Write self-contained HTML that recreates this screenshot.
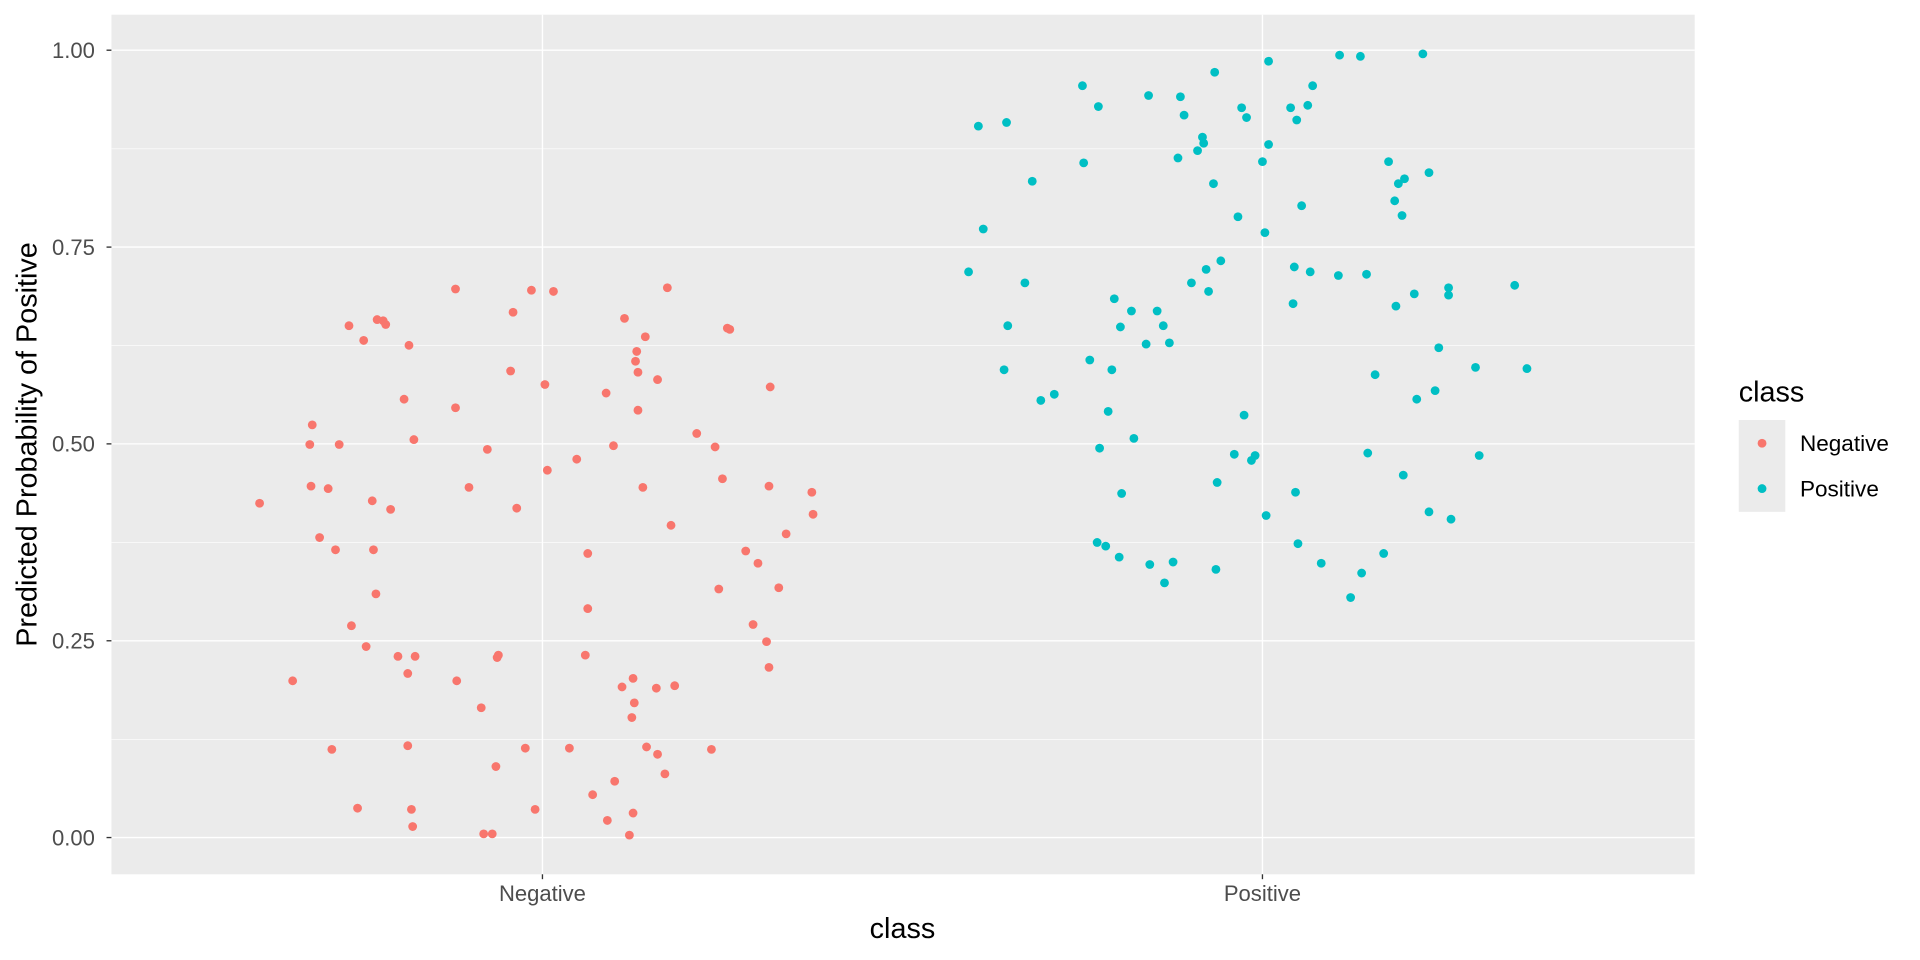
<!DOCTYPE html>
<html><head><meta charset="utf-8"><style>html,body{margin:0;padding:0;background:#fff}svg{display:block}text{font-family:"Liberation Sans",Arial,sans-serif}</style></head>
<body>
<svg width="1920" height="960" viewBox="0 0 1568 784" xmlns="http://www.w3.org/2000/svg">
<rect x="0" y="0" width="1568" height="784" fill="#fff"/>
<rect x="91" y="12" width="1293" height="702" fill="#EBEBEB"/>
<g stroke="#fff" stroke-width="0.55">
<line x1="91" x2="1384" y1="121.5" y2="121.5"/><line x1="91" x2="1384" y1="282.3" y2="282.3"/>
<line x1="91" x2="1384" y1="443" y2="443"/><line x1="91" x2="1384" y1="603.8" y2="603.8"/>
</g>
<g stroke="#fff" stroke-width="1.1">
<line x1="91" x2="1384" y1="41" y2="41"/><line x1="91" x2="1384" y1="201.8" y2="201.8"/>
<line x1="91" x2="1384" y1="362.5" y2="362.5"/><line x1="91" x2="1384" y1="523.3" y2="523.3"/>
<line x1="91" x2="1384" y1="684" y2="684"/>
<line x1="443" x2="443" y1="12" y2="714"/><line x1="1031" x2="1031" y1="12" y2="714"/>
</g>
<g stroke="#333" stroke-width="1.1">
<line x1="87" x2="91" y1="41" y2="41"/><line x1="87" x2="91" y1="201.8" y2="201.8"/>
<line x1="87" x2="91" y1="362.5" y2="362.5"/><line x1="87" x2="91" y1="523.3" y2="523.3"/>
<line x1="87" x2="91" y1="684" y2="684"/>
<line x1="443" x2="443" y1="714" y2="718"/><line x1="1031" x2="1031" y1="714" y2="718"/>
</g>
<g font-size="18" fill="#4D4D4D" text-anchor="end">
<text x="77.5" y="47.4">1.00</text><text x="77.5" y="208.2">0.75</text><text x="77.5" y="368.9">0.50</text>
<text x="77.5" y="529.7">0.25</text><text x="77.5" y="690.4">0.00</text>
</g>
<g font-size="18" fill="#4D4D4D" text-anchor="middle">
<text x="443" y="736">Negative</text><text x="1031" y="736">Positive</text>
</g>
<text x="737" y="766" font-size="23.5" text-anchor="middle" fill="#000">class</text>
<text transform="translate(30,363) rotate(-90)" font-size="23.5" text-anchor="middle" fill="#000">Predicted Probability of Positive</text>
<g fill="#F8766D">
<circle cx="212" cy="411" r="3.6"/><circle cx="239" cy="556" r="3.6"/><circle cx="253" cy="363" r="3.6"/><circle cx="255" cy="347" r="3.6"/><circle cx="254" cy="397" r="3.6"/><circle cx="261" cy="439" r="3.6"/><circle cx="268" cy="399" r="3.6"/><circle cx="271" cy="612" r="3.6"/><circle cx="274" cy="449" r="3.6"/><circle cx="277" cy="363" r="3.6"/><circle cx="285" cy="266" r="3.6"/><circle cx="287" cy="511" r="3.6"/><circle cx="292" cy="660" r="3.6"/><circle cx="297" cy="278" r="3.6"/><circle cx="299" cy="528" r="3.6"/><circle cx="304" cy="409" r="3.6"/><circle cx="305" cy="449" r="3.6"/><circle cx="307" cy="485" r="3.6"/><circle cx="308" cy="261" r="3.6"/><circle cx="313" cy="262" r="3.6"/><circle cx="315" cy="265" r="3.6"/><circle cx="319" cy="416" r="3.6"/><circle cx="325" cy="536" r="3.6"/><circle cx="330" cy="326" r="3.6"/><circle cx="334" cy="282" r="3.6"/><circle cx="333" cy="550" r="3.6"/><circle cx="333" cy="609" r="3.6"/><circle cx="336" cy="661" r="3.6"/><circle cx="337" cy="675" r="3.6"/><circle cx="338" cy="359" r="3.6"/><circle cx="339" cy="536" r="3.6"/><circle cx="372" cy="236" r="3.6"/><circle cx="372" cy="333" r="3.6"/><circle cx="373" cy="556" r="3.6"/><circle cx="383" cy="398" r="3.6"/><circle cx="393" cy="578" r="3.6"/><circle cx="395" cy="681" r="3.6"/><circle cx="398" cy="367" r="3.6"/><circle cx="402" cy="681" r="3.6"/><circle cx="405" cy="626" r="3.6"/><circle cx="406" cy="537" r="3.6"/><circle cx="407" cy="535" r="3.6"/><circle cx="417" cy="303" r="3.6"/><circle cx="419" cy="255" r="3.6"/><circle cx="422" cy="415" r="3.6"/><circle cx="429" cy="611" r="3.6"/><circle cx="434" cy="237" r="3.6"/><circle cx="437" cy="661" r="3.6"/><circle cx="445" cy="314" r="3.6"/><circle cx="447" cy="384" r="3.6"/><circle cx="452" cy="238" r="3.6"/><circle cx="465" cy="611" r="3.6"/><circle cx="471" cy="375" r="3.6"/><circle cx="478" cy="535" r="3.6"/><circle cx="480" cy="452" r="3.6"/><circle cx="480" cy="497" r="3.6"/><circle cx="484" cy="649" r="3.6"/><circle cx="495" cy="321" r="3.6"/><circle cx="496" cy="670" r="3.6"/><circle cx="501" cy="364" r="3.6"/><circle cx="502" cy="638" r="3.6"/><circle cx="508" cy="561" r="3.6"/><circle cx="510" cy="260" r="3.6"/><circle cx="514" cy="682" r="3.6"/><circle cx="516" cy="586" r="3.6"/><circle cx="517" cy="554" r="3.6"/><circle cx="517" cy="664" r="3.6"/><circle cx="518" cy="574" r="3.6"/><circle cx="519" cy="295" r="3.6"/><circle cx="520" cy="287" r="3.6"/><circle cx="521" cy="304" r="3.6"/><circle cx="521" cy="335" r="3.6"/><circle cx="525" cy="398" r="3.6"/><circle cx="527" cy="275" r="3.6"/><circle cx="528" cy="610" r="3.6"/><circle cx="536" cy="562" r="3.6"/><circle cx="537" cy="616" r="3.6"/><circle cx="537" cy="310" r="3.6"/><circle cx="543" cy="632" r="3.6"/><circle cx="545" cy="235" r="3.6"/><circle cx="548" cy="429" r="3.6"/><circle cx="551" cy="560" r="3.6"/><circle cx="569" cy="354" r="3.6"/><circle cx="581" cy="612" r="3.6"/><circle cx="584" cy="365" r="3.6"/><circle cx="587" cy="481" r="3.6"/><circle cx="590" cy="391" r="3.6"/><circle cx="594" cy="268" r="3.6"/><circle cx="596" cy="269" r="3.6"/><circle cx="609" cy="450" r="3.6"/><circle cx="615" cy="510" r="3.6"/><circle cx="619" cy="460" r="3.6"/><circle cx="626" cy="524" r="3.6"/><circle cx="628" cy="397" r="3.6"/><circle cx="628" cy="545" r="3.6"/><circle cx="629" cy="316" r="3.6"/><circle cx="636" cy="480" r="3.6"/><circle cx="642" cy="436" r="3.6"/><circle cx="663" cy="402" r="3.6"/><circle cx="664" cy="420" r="3.6"/>
</g>
<g fill="#00BFC4">
<circle cx="791" cy="222" r="3.6"/><circle cx="799" cy="103" r="3.6"/><circle cx="803" cy="187" r="3.6"/><circle cx="820" cy="302" r="3.6"/><circle cx="822" cy="100" r="3.6"/><circle cx="823" cy="266" r="3.6"/><circle cx="837" cy="231" r="3.6"/><circle cx="843" cy="148" r="3.6"/><circle cx="850" cy="327" r="3.6"/><circle cx="861" cy="322" r="3.6"/><circle cx="884" cy="70" r="3.6"/><circle cx="885" cy="133" r="3.6"/><circle cx="890" cy="294" r="3.6"/><circle cx="897" cy="87" r="3.6"/><circle cx="896" cy="443" r="3.6"/><circle cx="898" cy="366" r="3.6"/><circle cx="903" cy="446" r="3.6"/><circle cx="905" cy="336" r="3.6"/><circle cx="908" cy="302" r="3.6"/><circle cx="910" cy="244" r="3.6"/><circle cx="914" cy="455" r="3.6"/><circle cx="915" cy="267" r="3.6"/><circle cx="916" cy="403" r="3.6"/><circle cx="924" cy="254" r="3.6"/><circle cx="926" cy="358" r="3.6"/><circle cx="936" cy="281" r="3.6"/><circle cx="938" cy="78" r="3.6"/><circle cx="939" cy="461" r="3.6"/><circle cx="945" cy="254" r="3.6"/><circle cx="950" cy="266" r="3.6"/><circle cx="951" cy="476" r="3.6"/><circle cx="955" cy="280" r="3.6"/><circle cx="958" cy="459" r="3.6"/><circle cx="962" cy="129" r="3.6"/><circle cx="964" cy="79" r="3.6"/><circle cx="967" cy="94" r="3.6"/><circle cx="973" cy="231" r="3.6"/><circle cx="978" cy="123" r="3.6"/><circle cx="982" cy="112" r="3.6"/><circle cx="983" cy="117" r="3.6"/><circle cx="985" cy="220" r="3.6"/><circle cx="987" cy="238" r="3.6"/><circle cx="991" cy="150" r="3.6"/><circle cx="992" cy="59" r="3.6"/><circle cx="993" cy="465" r="3.6"/><circle cx="994" cy="394" r="3.6"/><circle cx="997" cy="213" r="3.6"/><circle cx="1008" cy="371" r="3.6"/><circle cx="1011" cy="177" r="3.6"/><circle cx="1014" cy="88" r="3.6"/><circle cx="1016" cy="339" r="3.6"/><circle cx="1018" cy="96" r="3.6"/><circle cx="1022" cy="376" r="3.6"/><circle cx="1025" cy="372" r="3.6"/><circle cx="1031" cy="132" r="3.6"/><circle cx="1033" cy="190" r="3.6"/><circle cx="1034" cy="421" r="3.6"/><circle cx="1036" cy="50" r="3.6"/><circle cx="1036" cy="118" r="3.6"/><circle cx="1054" cy="88" r="3.6"/><circle cx="1056" cy="248" r="3.6"/><circle cx="1057" cy="218" r="3.6"/><circle cx="1058" cy="402" r="3.6"/><circle cx="1059" cy="98" r="3.6"/><circle cx="1060" cy="444" r="3.6"/><circle cx="1063" cy="168" r="3.6"/><circle cx="1068" cy="86" r="3.6"/><circle cx="1070" cy="222" r="3.6"/><circle cx="1072" cy="70" r="3.6"/><circle cx="1079" cy="460" r="3.6"/><circle cx="1093" cy="225" r="3.6"/><circle cx="1094" cy="45" r="3.6"/><circle cx="1103" cy="488" r="3.6"/><circle cx="1111" cy="46" r="3.6"/><circle cx="1112" cy="468" r="3.6"/><circle cx="1116" cy="224" r="3.6"/><circle cx="1117" cy="370" r="3.6"/><circle cx="1123" cy="306" r="3.6"/><circle cx="1130" cy="452" r="3.6"/><circle cx="1134" cy="132" r="3.6"/><circle cx="1139" cy="164" r="3.6"/><circle cx="1140" cy="250" r="3.6"/><circle cx="1142" cy="150" r="3.6"/><circle cx="1145" cy="176" r="3.6"/><circle cx="1146" cy="388" r="3.6"/><circle cx="1147" cy="146" r="3.6"/><circle cx="1155" cy="240" r="3.6"/><circle cx="1157" cy="326" r="3.6"/><circle cx="1162" cy="44" r="3.6"/><circle cx="1167" cy="418" r="3.6"/><circle cx="1167" cy="141" r="3.6"/><circle cx="1172" cy="319" r="3.6"/><circle cx="1175" cy="284" r="3.6"/><circle cx="1183" cy="235" r="3.6"/><circle cx="1183" cy="241" r="3.6"/><circle cx="1185" cy="424" r="3.6"/><circle cx="1205" cy="300" r="3.6"/><circle cx="1208" cy="372" r="3.6"/><circle cx="1237" cy="233" r="3.6"/><circle cx="1247" cy="301" r="3.6"/>
</g>
<text x="1420" y="328" font-size="23.5" fill="#000">class</text>
<rect x="1420" y="343" width="38" height="75" fill="#EBEBEB"/>
<circle cx="1439" cy="362" r="3.6" fill="#F8766D"/>
<circle cx="1439" cy="399" r="3.6" fill="#00BFC4"/>
<text x="1470" y="368.5" font-size="18.4" fill="#000">Negative</text>
<text x="1470" y="405.5" font-size="18.4" fill="#000">Positive</text>
</svg>
</body></html>
